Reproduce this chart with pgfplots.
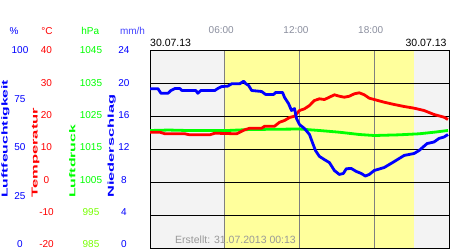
\documentclass[border=0pt]{standalone}
\usepackage{pgfplots}
\pgfplotsset{compat=1.18}
\usepackage{graphicx}
\usepackage{fontspec}
\setmainfont{Liberation Sans}
\definecolor{hum}{HTML}{0000FF}
\definecolor{mmblue}{HTML}{4444FF}
\definecolor{tempred}{HTML}{FF0000}
\definecolor{pgreen}{HTML}{00FF00}
\definecolor{plow}{HTML}{77FF00}
\definecolor{nightgray}{HTML}{F3F3F3}
\definecolor{dayyellow}{HTML}{FFFF9C}
\definecolor{vgray}{HTML}{808080}
\definecolor{timegray}{HTML}{8A8E9E}
\definecolor{erstgray}{HTML}{999999}
\begin{document}
\begin{tikzpicture}[font=\fontsize{10}{12}\selectfont]
\path[use as bounding box] (0,0) rectangle (450pt,250pt);
\pgfplotsset{
  base/.style={scale only axis, width=299pt, height=198pt, at={(150pt,1.5pt)},
    anchor=south west, xmin=0, xmax=24, major tick length=0pt},
  hidden/.style={axis line style={draw=none}, xtick=\empty},
  series/.style={line width=2.8pt, line join=round}
}
% background, grid and temperature scale
\begin{axis}[base, ymin=-20, ymax=40, axis on top,
  axis background/.style={fill=nightgray},
  axis line style={black, line width=0.9pt},
  xtick={6,12,18}, xticklabels={06:00,12:00,18:00}, xticklabel pos=upper,
  xmajorgrids, x grid style={color=vgray, line width=0.9pt},
  ytick={-20,-10,0,10,20,30,40}, yticklabels={-20,-10,0,10,20,30,40},
  ymajorgrids, y grid style={black, line width=0.9pt},
  xticklabel style={anchor=center, yshift=20pt, xshift=-3.5pt, text=timegray},
  yticklabel style={anchor=center, xshift=-103.5pt, yshift={(6-\ticknum)*0.7pt}, text=tempred}]
\fill[dayyellow] (axis cs:6,-20) rectangle (axis cs:21.2,40);
\end{axis}
% pressure
\begin{axis}[base, hidden, ymin=985, ymax=1045,
  ytick={985,995,1005,1015,1025,1035,1045},
  yticklabels={\textcolor{plow}{985},\textcolor{plow}{995},1005,1015,1025,1035,1045},
  yticklabel style={anchor=center, xshift=-59pt, yshift={(6-\ticknum)*0.7pt}, text=pgreen}]
\addplot[pgreen, series] coordinates {
(0,1020.76) (1.5,1020.9) (3,1020.76) (6.24,1020.76) (8,1021.06) (12,1021.21)
(13.6,1020.76) (15.2,1020.24) (16.8,1019.55) (18,1019.24) (20,1019.45)
(21.6,1019.76) (22.8,1020.24) (23.92,1020.76)};
\end{axis}
% temperature data
\begin{axis}[base, hidden, ymin=-20, ymax=40, ytick=\empty]
\addplot[tempred, series] coordinates {
(0,15.24) (0.8,15.24) (1.2,14.76) (2.8,14.76) (3.2,14.45) (4.8,14.45)
(5.2,14.94) (6.96,14.76) (7.2,15.24) (7.6,15.97) (8.0,16.45) (8.96,16.45)
(9.2,17.06) (10.0,17.06) (10.4,18.27) (10.8,18.79) (11.2,19.70) (11.6,20.09)
(12.0,21.82) (12.4,22.33) (12.8,23.33) (13.2,24.85) (13.6,25.36) (14.0,25.15)
(14.4,25.85) (14.8,26.58) (15.2,26.15) (15.6,25.85) (16.0,26.15) (16.4,26.88)
(16.8,27.18) (17.2,26.58) (17.6,25.55) (18.0,25.15) (18.8,24.33) (19.6,23.64)
(20.4,23.03) (21.2,22.52) (22.0,21.82) (22.8,20.61) (23.6,19.79) (23.92,19.09)};
\end{axis}
% humidity
\begin{axis}[base, hidden, ymin=0, ymax=100,
  ytick={0,25,50,75,100}, yticklabels={0,25,50,75,100},
  yticklabel style={anchor=center, xshift=-130pt, yshift={(4-\ticknum)*1.05pt}, text=hum}]
\addplot[hum, series] coordinates {
(0,80.7) (0.64,80.7) (0.88,78.4) (1.44,78.4) (1.68,79.8) (2.0,80.8) (2.4,80.8)
(2.56,79.8) (3.68,79.8) (3.84,78.4) (4.08,79.8) (5.2,79.8) (5.44,80.8)
(5.76,81.8) (6.24,82.0) (6.56,83.2) (7.2,83.2) (7.52,84.5) (7.68,83.3)
(7.92,82.3) (8.16,79.8) (8.96,79.3) (9.28,77.8) (9.92,77.8) (10.08,78.8)
(10.64,78.8) (10.8,76.3) (11.12,73.2) (11.36,69.7) (11.6,70.7) (11.76,65.7)
(12.0,62.6) (12.4,60.6) (12.8,57.6) (13.04,53.5) (13.28,49.5) (13.6,46.5)
(14.0,44.9) (14.4,43.4) (14.8,39.4) (15.2,37.4) (15.52,37.9) (15.76,40.3)
(16.16,40.4) (16.56,38.9) (16.96,37.9) (17.28,36.6) (17.6,37.4) (18.0,39.4)
(18.8,40.9) (19.6,43.9) (20.4,47.0) (21.2,48.0) (21.6,49.5) (22.24,53.0)
(22.8,53.8) (23.2,55.6) (23.6,56.3) (23.92,57.6)};
\end{axis}
% precipitation scale (no precipitation)
\begin{axis}[base, hidden, ymin=0, ymax=24,
  ytick={0,4,8,12,16,20,24}, yticklabels={0,4,8,12,16,20,24},
  yticklabel style={anchor=center, xshift=-26pt, yshift={(6-\ticknum)*0.7pt}, text=hum}]
\end{axis}
% header units
\node[text=hum] at (14pt,219.3pt) {\%};
\node[text=tempred] at (47pt,219.3pt) {°C};
\node[text=pgreen] at (90.3pt,219.3pt) {hPa};
\node[text=mmblue] at (132.5pt,219.3pt) {mm/h};
% dates
\node[anchor=west, inner sep=0pt, font=\fontsize{10.5}{12}\selectfont] at (150pt,206.7pt) {30.07.13};
\node[anchor=east, inner sep=0pt, font=\fontsize{10.5}{12}\selectfont] at (446.7pt,206.7pt) {30.07.13};
\node[anchor=west, inner sep=0pt, text=erstgray, font=\fontsize{10.5}{12}\selectfont] at (175pt,10pt) {Erstellt: 31.07.2013 00:13};
% rotated axis titles
\begin{scope}[every node/.style={rotate=90, anchor=west, inner sep=0pt, font=\bfseries\fontsize{8.6}{10}\selectfont}]
\node[text=hum] at (5.5pt,52pt) {\resizebox{118pt}{\height}{Luftfeuchtigkeit}};
\node[text=tempred] at (35.5pt,52pt) {\resizebox{90pt}{\height}{Temperatur}};
\node[text=pgreen] at (72.2pt,52pt) {\resizebox{73pt}{\height}{Luftdruck}};
\node[text=hum] at (111.7pt,52pt) {\resizebox{103pt}{\height}{Niederschlag}};
\end{scope}
\end{tikzpicture}
\end{document}
